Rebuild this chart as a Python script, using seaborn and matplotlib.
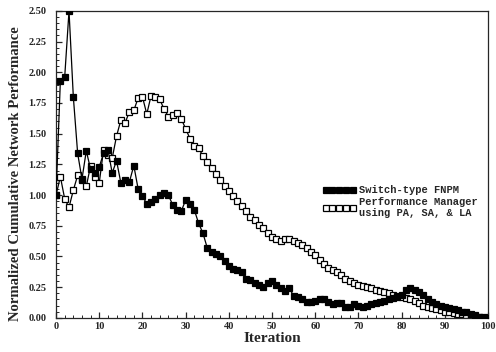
import numpy as np
import pandas as pd
import matplotlib
matplotlib.use("Agg")
import matplotlib.pyplot as plt
import seaborn as sns
from matplotlib.ticker import MultipleLocator

iterations = list(range(0, 101))

switch_fnpm = [
    1.00, 1.93, 1.96, 2.50, 1.80, 1.34, 1.13, 1.36, 1.21, 1.18,
    1.23, 1.34, 1.37, 1.18, 1.28, 1.10, 1.12, 1.11, 1.24, 1.05,
    0.99, 0.93, 0.94, 0.97, 1.00, 1.02, 1.00, 0.92, 0.88, 0.87,
    0.96, 0.93, 0.88, 0.77, 0.69, 0.57, 0.54, 0.52, 0.50, 0.46,
    0.42, 0.40, 0.39, 0.37, 0.32, 0.31, 0.28, 0.27, 0.25, 0.28,
    0.30, 0.27, 0.24, 0.22, 0.24, 0.18, 0.17, 0.15, 0.13, 0.13,
    0.14, 0.15, 0.15, 0.13, 0.11, 0.12, 0.12, 0.09, 0.09, 0.11,
    0.10, 0.09, 0.10, 0.11, 0.12, 0.13, 0.14, 0.15, 0.16, 0.17,
    0.19, 0.23, 0.24, 0.23, 0.21, 0.19, 0.15, 0.13, 0.11, 0.10,
    0.09, 0.08, 0.07, 0.06, 0.05, 0.05, 0.03, 0.02, 0.01, 0.01,
    0.00,
]

perf_manager = [
    1.00, 1.15, 0.97, 0.90, 1.04, 1.16, 1.12, 1.07, 1.24, 1.15,
    1.10, 1.37, 1.33, 1.30, 1.48, 1.61, 1.59, 1.68, 1.69, 1.79,
    1.80, 1.66, 1.81, 1.80, 1.78, 1.70, 1.64, 1.65, 1.67, 1.62,
    1.54, 1.46, 1.40, 1.38, 1.32, 1.27, 1.22, 1.17, 1.12, 1.07,
    1.03, 0.99, 0.95, 0.91, 0.87, 0.82, 0.80, 0.76, 0.73, 0.69,
    0.66, 0.64, 0.63, 0.64, 0.64, 0.63, 0.61, 0.59, 0.57, 0.54,
    0.51, 0.47, 0.44, 0.41, 0.39, 0.37, 0.35, 0.32, 0.30, 0.28,
    0.27, 0.26, 0.25, 0.24, 0.23, 0.22, 0.21, 0.20, 0.19, 0.18,
    0.17, 0.16, 0.15, 0.14, 0.12, 0.10, 0.09, 0.08, 0.07, 0.06,
    0.05, 0.05, 0.04, 0.03, 0.03, 0.02, 0.02, 0.01, 0.01, 0.00,
    0.00,
]

label_switch = "Switch-type FNPM"
label_pm = "Performance Manager\nusing PA, SA, & LA"

sns.set_style("ticks")
plt.rcParams["font.family"] = ["Liberation Serif", "DejaVu Serif"]
plt.rcParams["font.weight"] = "bold"

fig = plt.figure(figsize=(4.96, 3.52), dpi=100)
ax = fig.add_axes([0.113, 0.097, 0.871, 0.872])

df_s = pd.DataFrame({"Iteration": iterations, "Value": switch_fnpm})
df_p = pd.DataFrame({"Iteration": iterations, "Value": perf_manager})

sns.lineplot(data=df_p, x="Iteration", y="Value", ax=ax, color="black",
             linewidth=0.9, marker="s", markersize=4.2, markerfacecolor="white",
             markeredgecolor="black", markeredgewidth=0.9, label=label_pm, zorder=2)
sns.lineplot(data=df_s, x="Iteration", y="Value", ax=ax, color="black",
             linewidth=0.9, marker="s", markersize=4.4, markerfacecolor="black",
             markeredgecolor="black", markeredgewidth=0.9, label=label_switch, zorder=3)

ax.set_xlim(0, 100)
ax.set_ylim(0, 2.5)
ax.xaxis.set_major_locator(MultipleLocator(10))
ax.xaxis.set_minor_locator(MultipleLocator(2))
ax.yaxis.set_major_locator(MultipleLocator(0.25))
ax.yaxis.set_minor_locator(MultipleLocator(0.05))
ax.yaxis.set_major_formatter(matplotlib.ticker.FormatStrFormatter("%.2f"))
ax.tick_params(axis="both", which="major", direction="in", length=4, width=0.9,
               labelsize=7.5)
ax.tick_params(axis="y", which="major", pad=7)
ax.tick_params(axis="x", which="major", pad=3)
ax.tick_params(axis="both", which="minor", direction="in", length=2.5, width=0.7)
for lab in ax.get_xticklabels() + ax.get_yticklabels():
    lab.set_fontweight("bold")

for sp in ax.spines.values():
    sp.set_linewidth(0.9)
    sp.set_visible(True)

ax.set_xlabel("Iteration", fontsize=11, fontweight="bold", labelpad=1)
ax.set_ylabel("Normalized Cumulative Network Performance", fontsize=10.6,
              fontweight="bold")
ax.yaxis.set_label_coords(-0.078, 0.47)

handles, labels = ax.get_legend_handles_labels()
order = [labels.index(label_switch), labels.index(label_pm)]
leg = ax.legend([handles[i] for i in order], [labels[i] for i in order],
                loc="upper left", bbox_to_anchor=(0.6, 0.455), frameon=False,
                numpoints=5, handlelength=3.2, handletextpad=0.3,
                labelspacing=0.1, borderpad=0.2,
                prop={"family": "Liberation Mono", "weight": "bold", "size": 7.5})

fig.savefig("out.png", dpi=100)
